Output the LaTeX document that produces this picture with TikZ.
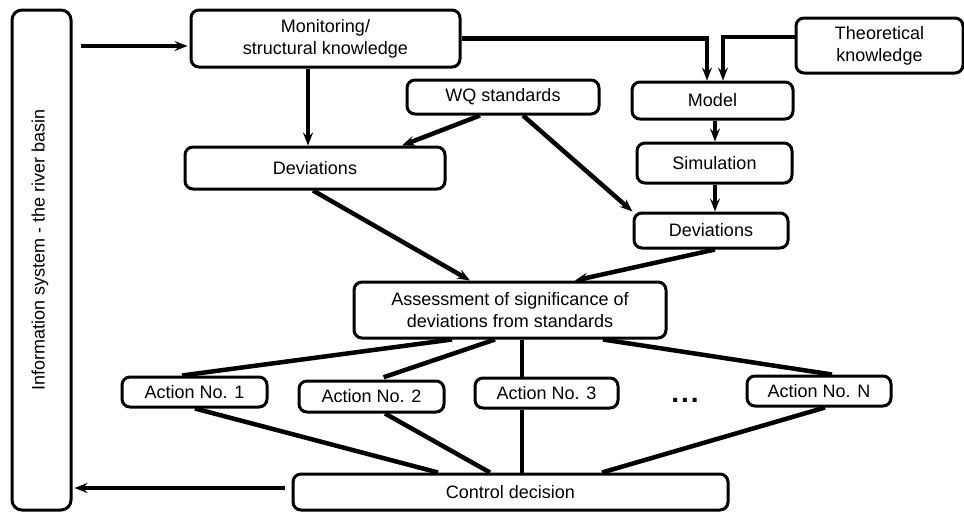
\documentclass[tikz,border=0pt]{standalone}
\usepackage{fontspec}
\setmainfont{Liberation Sans}
\usetikzlibrary{arrows.meta}
\begin{document}
\begin{tikzpicture}[x=1pt,y=-1pt,
  box/.style={draw, line width=3pt, rounded corners=8pt, inner sep=0pt, align=center,
    font=\fontsize{18}{22}\selectfont},
  conn/.style={line width=4.5pt},
  arr/.style={conn, -{Stealth[length=13pt,width=10pt,inset=5pt]}}]
\useasboundingbox (0,0) rectangle (964,512);
\node[box, minimum width=59pt, minimum height=500pt, rounded corners=10pt] (info) at (41.5,260) {};
\node[rotate=90, font=\fontsize{18}{22}\selectfont] (infot) at (40,250) {Information system - the river basin};
\node[box, minimum width=269pt, minimum height=57pt] (mon) at (325.5,38.5) {Monitoring/\\structural knowledge};
\node[box, minimum width=167pt, minimum height=55pt] (theo) at (879.5,45.5) {Theoretical\\knowledge};
\node[box, minimum width=192pt, minimum height=34pt] (wq) at (503,97) {WQ standards};
\node[box, minimum width=161pt, minimum height=37pt] (model) at (712.5,100.5) {Model};
\node[box, minimum width=155pt, minimum height=40pt] (sim) at (714.5,163) {Simulation};
\node[box, minimum width=260pt, minimum height=42pt] (dev1) at (315,168) {Deviations};
\node[box, minimum width=154pt, minimum height=35pt] (dev2) at (711,230.5) {Deviations};
\node[box, minimum width=312pt, minimum height=56pt] (assess) at (510,310) {Assessment of significance of\\deviations from standards};
\node[box, minimum width=145pt, minimum height=30pt] (a1) at (194.5,392) {Action No. 1};
\node[box, minimum width=145pt, minimum height=31pt] (a2) at (371.5,396.5) {Action No. 2};
\node[box, minimum width=143pt, minimum height=30pt] (a3) at (546.5,393) {Action No. 3};
\node[box, minimum width=144pt, minimum height=30pt] (aN) at (819,391) {Action No. N};
\node[font=\fontsize{28}{30}\selectfont\bfseries, anchor=base, inner sep=0pt] (dots) at (685,402) {.\hspace{2pt}.\hspace{2pt}.};
\node[box, minimum width=435pt, minimum height=36pt] (ctrl) at (510.5,492) {Control decision};
% arrows
\coordinate (i1) at ([yshift=-7.5pt]mon.west);
\draw[arr, shorten <=8pt, shorten >=2pt] (i1 -| info.east) -- (i1);
\draw[arr] ([xshift=-17.5pt]mon.south) -- ([xshift=-17.5pt]mon.south |- dev1.north);
\draw[arr] (mon.east) -| ([xshift=-5.5pt]model.north);
\draw[arr] ([yshift=8.5pt]theo.west) -| ([xshift=10.5pt]model.north);
\draw[arr] ([xshift=2.5pt]model.south) -- ([xshift=2.5pt]model.south |- sim.north);
\draw[arr] ([xshift=0.5pt]sim.south) -- ([xshift=0.5pt]sim.south |- dev2.north);
\draw[arr] ([xshift=-23pt]wq.south) -- ([xshift=87pt]dev1.north);
\draw[arr] ([xshift=20pt]wq.south) -- (dev2.north west);
\draw[arr] ([xshift=-2pt]dev1.south) -- ([xshift=-40pt]assess.north);
\draw[arr] ([xshift=4pt]dev2.south) -- ([xshift=65pt]assess.north);
% lines
\draw[conn] ([xshift=-58pt]assess.south) -- ([xshift=-12.5pt]a1.north);
\draw[conn, shorten >=7pt] ([xshift=-15pt]assess.south) -- ([xshift=5.5pt]a2.north);
\draw[conn] ([xshift=12pt]assess.south) -- ([xshift=12pt]assess.south |- a3.north);
\draw[conn] ([xshift=93pt]assess.south) -- ([xshift=13pt]aN.north);
\draw[conn] ([xshift=0.5pt]a1.south) -- ([xshift=-72.5pt]ctrl.north);
\draw[conn] ([xshift=13.5pt]a2.south) -- ([xshift=-20.5pt]ctrl.north);
\draw[conn] ([xshift=-24.5pt]a3.south) -- ([xshift=-24.5pt]a3.south |- ctrl.north);
\draw[conn] ([xshift=6pt]aN.south) -- ([xshift=91.5pt]ctrl.north);
\draw[arr, shorten <=7pt, shorten >=2pt] ([yshift=4pt]ctrl.west) -- ([yshift=4pt]ctrl.west -| info.east);
\end{tikzpicture}
\end{document}
